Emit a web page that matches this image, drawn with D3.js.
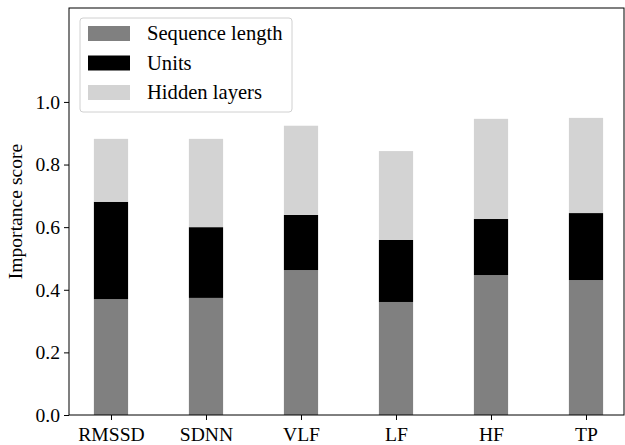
<!DOCTYPE html>
<html>
<head>
<meta charset="utf-8">
<script src="https://cdn.jsdelivr.net/npm/d3@7"></script>
<style>
body{margin:0;background:#fff;}
svg text{font-family:"Liberation Serif","Times New Roman",serif;}
</style>
</head>
<body>
<svg id="chart" width="625" height="445"></svg>
<script>
// data
var categories = ["RMSSD", "SDNN", "VLF", "LF", "HF", "TP"];
var seqLength = [0.370, 0.374, 0.463, 0.361, 0.447, 0.431];
var units     = [0.311, 0.226, 0.176, 0.198, 0.179, 0.214];
var hidden    = [0.201, 0.282, 0.285, 0.284, 0.320, 0.304];
var seriesNames = ["Sequence length", "Units", "Hidden layers"];
var seriesColors = ["#808080", "#000000", "#d3d3d3"];
var yTicks = [0.0, 0.2, 0.4, 0.6, 0.8, 1.0];

var svg = d3.select("#chart");
// plot area edges (note: "top" is reserved on window)
var pLeft = 69, pRight = 624, pTop = 8, pBottom = 415;
var fs = 19.6;

var x = d3.scaleLinear().domain([-0.442, 5.4]).range([pLeft, pRight]);
var y = d3.scaleLinear().domain([0, 1.3]).range([pBottom, pTop]);
var barW = x(0.36) - x(0);

var rows = categories.map(function(c, i){
    return {cat: i, s0: seqLength[i], s1: units[i], s2: hidden[i]};
});
var stack = d3.stack().keys(["s0", "s1", "s2"]);
var layers = stack(rows);

svg.selectAll("g.layer")
    .data(layers)
    .enter().append("g")
    .attr("class", "layer")
    .attr("fill", function(d, i){ return seriesColors[i]; })
    .selectAll("rect")
    .data(function(d){ return d; })
    .enter().append("rect")
    .attr("x", function(d){ return x(d.data.cat) - barW/2; })
    .attr("width", barW)
    .attr("y", function(d){ return y(d[1]); })
    .attr("height", function(d){ return y(d[0]) - y(d[1]); });

// axes
var xAxis = d3.axisBottom(x).tickValues(d3.range(categories.length))
    .tickFormat(function(i){ return categories[i]; }).tickSize(5).tickPadding(4);
var yAxis = d3.axisLeft(y).tickValues(yTicks).tickFormat(d3.format(".1f")).tickSize(5).tickPadding(4);

var gx = svg.append("g").attr("transform", "translate(0," + pBottom + ")").call(xAxis);
var gy = svg.append("g").attr("transform", "translate(" + pLeft + ",0)").call(yAxis);
[gx, gy].forEach(function(g){
    g.select(".domain").remove();
    g.selectAll("line").attr("stroke", "#000").attr("stroke-width", 1);
    g.selectAll("text").attr("font-size", fs).attr("fill", "#000")
        .style("font-family", "'Liberation Serif', serif");
});
gx.selectAll("text").attr("dy", "0.85em");

// frame
svg.append("rect").attr("x", pLeft).attr("y", pTop)
    .attr("width", pRight - pLeft).attr("height", pBottom - pTop)
    .attr("fill", "none").attr("stroke", "#000").attr("stroke-width", 1);

svg.append("text")
    .attr("transform", "translate(22," + (pTop + pBottom)/2 + ") rotate(-90)")
    .attr("text-anchor", "middle")
    .attr("font-size", fs)
    .text("Importance score");

// legend
var lg = svg.append("g").attr("transform", "translate(80,18)");
lg.append("rect").attr("width", 212).attr("height", 94).attr("rx", 3)
    .attr("fill", "#fff").attr("fill-opacity", 0.8)
    .attr("stroke", "#d0d0d0").attr("stroke-width", 1);
seriesNames.forEach(function(n, i){
    lg.append("rect").attr("x", 8).attr("y", 8 + i*29.5)
        .attr("width", 42).attr("height", 15).attr("fill", seriesColors[i]);
    lg.append("text").attr("x", 67).attr("y", 22 + i*29.5)
        .attr("font-size", 20.6).text(n);
});
</script>
</body>
</html>
